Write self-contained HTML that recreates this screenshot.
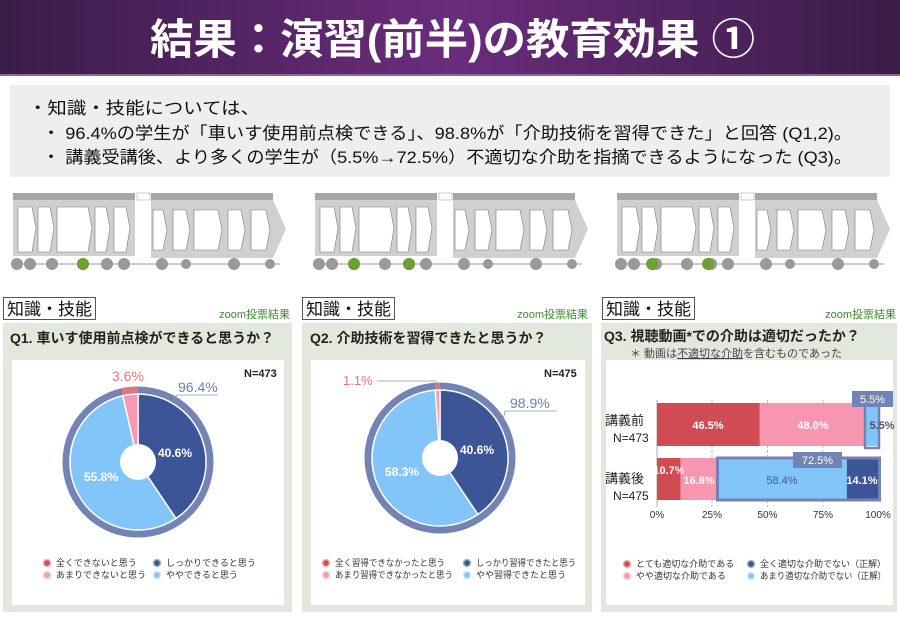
<!DOCTYPE html>
<html><head><meta charset="utf-8"><style>
body{margin:0;width:900px;height:618px;overflow:hidden;background:#fff;font-family:"Liberation Sans","Noto Sans CJK JP",sans-serif}
svg{display:block}
text{font-family:"Liberation Sans","Noto Sans CJK JP",sans-serif}
</style></head><body>
<svg width="900" height="618" viewBox="0 0 900 618" xmlns="http://www.w3.org/2000/svg">
<defs>
<linearGradient id="hg" x1="0" x2="1" y1="0" y2="0">
<stop offset="0" stop-color="#3a1c48"/><stop offset="0.5" stop-color="#6a2c7c"/><stop offset="1" stop-color="#3a1c48"/>
</linearGradient>
<g id="flow">
<rect x="13" y="193" width="122" height="7" fill="#a6a6a6"/>
<rect x="151" y="193" width="122" height="7" fill="#a6a6a6"/>
<rect x="137" y="193" width="13" height="7" fill="#fff" stroke="#999" stroke-width="0.5"/>
<rect x="13" y="200" width="122" height="56" fill="#d0d0d0"/>
<polygon points="151,200 273,200 286,229 273,258 151,258" fill="#d0d0d0"/>
<g fill="#fff" stroke="#777" stroke-width="0.6">
<polygon points="18,207 32,207 36,228 32,252 18,252"/>
<polygon points="38,207 50,207 54,228 50,252 38,252"/>
<polygon points="57,207 88,207 92,228 88,252 57,252"/>
<polygon points="95,207 106,207 110,228 106,252 95,252"/>
<polygon points="114,207 126,207 130,228 126,252 114,252"/>
<polygon points="153,210 163,210 167,230 163,250 153,250"/>
<polygon points="173,210 186,210 190,230 186,250 173,250"/>
<polygon points="194,210 218,210 222,230 218,250 194,250"/>
<polygon points="228,210 241,210 245,230 241,250 228,250"/>
<polygon points="251,210 266,210 270,230 266,250 251,250"/>
</g>
<line x1="13" y1="264" x2="280" y2="264" stroke="#999" stroke-width="1"/>
<g fill="#999">
<circle cx="17" cy="264" r="6"/><circle cx="30" cy="264" r="6"/><circle cx="52" cy="264" r="6"/><circle cx="83" cy="264" r="6"/><circle cx="107" cy="264" r="6"/><circle cx="124" cy="264" r="6"/><circle cx="162" cy="264" r="6"/><circle cx="186" cy="264" r="5"/><circle cx="234" cy="264" r="6"/><circle cx="270" cy="264" r="5"/>
</g>
</g>
</defs>
<rect x="0" y="0" width="900" height="75" fill="url(#hg)"/>
<rect x="0" y="74" width="900" height="2" fill="#8a6a94"/>
<text x="150" y="54" font-size="42" font-weight="bold" fill="#fff" textLength="605" lengthAdjust="spacingAndGlyphs">結果：演習(前半)の教育効果 ①</text>
<rect x="10" y="85" width="880" height="92" fill="#eeeeee"/>
<text x="28" y="114" font-size="17" fill="#111" textLength="232" lengthAdjust="spacingAndGlyphs">・知識・技能については、</text>
<text x="42" y="139" font-size="17" fill="#111" textLength="810" lengthAdjust="spacingAndGlyphs">・ 96.4%の学生が「車いす使用前点検できる」、98.8%が「介助技術を習得できた」と回答 (Q1,2)。</text>
<text x="42" y="163" font-size="17" fill="#111" textLength="810" lengthAdjust="spacingAndGlyphs">・ 講義受講後、より多くの学生が（5.5%→72.5%）不適切な介助を指摘できるようになった (Q3)。</text>

<use href="#flow"/>
<use href="#flow" x="302"/>
<use href="#flow" x="604"/>
<circle cx="83" cy="264" r="6" fill="#6f9e35"/>
<circle cx="354" cy="264" r="6" fill="#6f9e35"/><circle cx="409" cy="264" r="6" fill="#6f9e35"/>
<circle cx="652" cy="264" r="6" fill="#6f9e35"/><circle cx="708" cy="264" r="6" fill="#6f9e35"/>

<g>
<rect x="3" y="323" width="289" height="289" fill="#e3e8dc"/>
<rect x="12" y="360" width="272" height="245" fill="#fff"/>
<rect x="302" y="323" width="290" height="289" fill="#e3e8dc"/>
<rect x="311" y="360" width="274" height="245" fill="#fff"/>
<rect x="601" y="323" width="296" height="289" fill="#e3e8dc"/>
<rect x="606" y="360" width="287" height="245" fill="#fff"/>
</g>
<g font-size="17" fill="#111">
<rect x="3.5" y="297.5" width="92" height="22" fill="#fff" stroke="#555"/>
<text x="7" y="315">知識・技能</text>
<rect x="302.5" y="297.5" width="92" height="22" fill="#fff" stroke="#555"/>
<text x="306" y="315">知識・技能</text>
<rect x="602.5" y="297.5" width="92" height="22" fill="#fff" stroke="#555"/>
<text x="606" y="315">知識・技能</text>
</g>
<g font-size="11" fill="#3e8a2e" text-anchor="end">
<text x="290" y="318">zoom投票結果</text><text x="588" y="318">zoom投票結果</text><text x="896" y="318">zoom投票結果</text>
</g>
<g font-size="14" fill="#222" font-weight="bold">
<text x="10" y="343">Q1. 車いす使用前点検ができると思うか？</text>
<text x="310" y="343">Q2. 介助技術を習得できたと思うか？</text>
<text x="604" y="341">Q3. 視聴動画*での介助は適切だったか？</text>
</g>
<text x="630" y="357" font-size="11" fill="#444">＊ 動画は<tspan text-decoration="underline">不適切な介助</tspan>を含むものであった</text>

<!-- Q1 pie -->
<circle cx="138" cy="462" r="72" fill="none" stroke="#7283b4" stroke-width="7"/>
<path d="M121.85,391.84 A72,72 0 0 1 138,390" fill="none" stroke="#d97880" stroke-width="7"/>
<path d="M138,462 L138,394 A68,68 0 0 1 175.88,518.47 Z" fill="#3c5597" stroke="#fff" stroke-width="1.5"/>
<path d="M138,462 L175.88,518.47 A68,68 0 1 1 122.75,395.73 Z" fill="#82c5f9" stroke="#fff" stroke-width="1.5"/>
<path d="M138,462 L122.75,395.73 A68,68 0 0 1 138,394 Z" fill="#f59ab2" stroke="#fff" stroke-width="1.5"/>
<circle cx="138" cy="462" r="18" fill="#fff"/>
<text x="112" y="381" font-size="14" fill="#e0787e">3.6%</text>
<text x="178" y="392" font-size="14" fill="#6d80b3">96.4%</text>
<polyline points="177,395 218,395" fill="none" stroke="#8894b8" stroke-width="0.8"/>
<line x1="177" y1="395" x2="172" y2="403" stroke="#8894b8" stroke-width="0.8"/>
<text x="244" y="377" font-size="11" font-weight="bold" fill="#222">N=473</text>
<text x="158" y="457" font-size="12" font-weight="bold" fill="#fff">40.6%</text>
<text x="84" y="481" font-size="12" font-weight="bold" fill="#fff">55.8%</text>
<g font-size="9" fill="#333">
<circle cx="47" cy="563" r="3.5" fill="#d44d55" stroke="#f2b0b4" stroke-width="1.5"/><text x="56" y="566">全くできないと思う</text>
<circle cx="47" cy="575" r="3.5" fill="#f59ab2" stroke="#fbd0dc" stroke-width="1.5"/><text x="56" y="578">あまりできないと思う</text>
<circle cx="157" cy="563" r="3.5" fill="#3c5597" stroke="#aab4d2" stroke-width="1.5"/><text x="166" y="566">しっかりできると思う</text>
<circle cx="157" cy="575" r="3.5" fill="#82c5f9" stroke="#cfe8fd" stroke-width="1.5"/><text x="166" y="578">ややできると思う</text>
</g>

<!-- Q2 pie -->
<circle cx="440" cy="458" r="72" fill="none" stroke="#7283b4" stroke-width="7"/>
<path d="M435.03,386.17 A72,72 0 0 1 440,386" fill="none" stroke="#d97880" stroke-width="7"/>
<path d="M440,458 L440,390 A68,68 0 0 1 477.88,514.47 Z" fill="#3c5597" stroke="#fff" stroke-width="1.5"/>
<path d="M440,458 L477.88,514.47 A68,68 0 1 1 435.30,390.16 Z" fill="#82c5f9" stroke="#fff" stroke-width="1.5"/>
<path d="M440,458 L435.30,390.16 A68,68 0 0 1 440,390 Z" fill="#f59ab2" stroke="#fff" stroke-width="1.5"/>
<circle cx="440" cy="458" r="18" fill="#fff"/>
<text x="343" y="385" font-size="13" fill="#e0787e">1.1%</text>
<line x1="377" y1="381" x2="437" y2="381" stroke="#8894b8" stroke-width="0.8"/>
<text x="510" y="408" font-size="14" fill="#6d80b3">98.9%</text>
<line x1="505" y1="411" x2="557" y2="411" stroke="#8894b8" stroke-width="0.8"/>
<line x1="505" y1="411" x2="503" y2="420" stroke="#8894b8" stroke-width="0.8"/>
<text x="544" y="377" font-size="11" font-weight="bold" fill="#222">N=475</text>
<text x="460" y="454" font-size="12" font-weight="bold" fill="#fff">40.6%</text>
<text x="385" y="476" font-size="12" font-weight="bold" fill="#fff">58.3%</text>
<g font-size="9" fill="#333">
<circle cx="326" cy="563" r="3.5" fill="#d44d55" stroke="#f2b0b4" stroke-width="1.5"/><text x="335" y="566" textLength="110" lengthAdjust="spacingAndGlyphs">全く習得できなかったと思う</text>
<circle cx="326" cy="575" r="3.5" fill="#f59ab2" stroke="#fbd0dc" stroke-width="1.5"/><text x="335" y="578" textLength="118" lengthAdjust="spacingAndGlyphs">あまり習得できなかったと思う</text>
<circle cx="467" cy="563" r="3.5" fill="#3c5597" stroke="#aab4d2" stroke-width="1.5"/><text x="476" y="566" textLength="100" lengthAdjust="spacingAndGlyphs">しっかり習得できたと思う</text>
<circle cx="467" cy="575" r="3.5" fill="#82c5f9" stroke="#cfe8fd" stroke-width="1.5"/><text x="476" y="578">やや習得できたと思う</text>
</g>

<!-- Q3 bars -->
<g stroke="#aaa" stroke-width="0.8" stroke-dasharray="3,2">
<line x1="712" y1="400" x2="712" y2="507"/><line x1="767.5" y1="400" x2="767.5" y2="507"/><line x1="823" y1="400" x2="823" y2="507"/>
</g>
<line x1="657" y1="400" x2="657" y2="507" stroke="#999" stroke-width="0.8"/>
<rect x="657" y="403" width="102.8" height="43" fill="#d14b52"/>
<rect x="759.8" y="403" width="106.1" height="43" fill="#f796b0"/>
<rect x="865.9" y="403" width="12.2" height="43" fill="#82c5f9"/>
<rect x="865" y="401" width="14" height="47" fill="none" stroke="#7283b4" stroke-width="2.5"/>
<rect x="657" y="458" width="23.6" height="42" fill="#d14b52"/>
<rect x="680.6" y="458" width="37.2" height="42" fill="#f796b0"/>
<rect x="717.8" y="458" width="129" height="42" fill="#82c5f9"/>
<rect x="846.8" y="458" width="31.2" height="42" fill="#3c5597"/>
<rect x="717.5" y="458" width="162" height="42" fill="none" stroke="#7283b4" stroke-width="3"/>
<rect x="852" y="391" width="41" height="16" fill="#7283b4"/>
<text x="872.5" y="403" font-size="11" fill="#fff" text-anchor="middle">5.5%</text>
<rect x="793" y="452" width="49" height="16" fill="#7283b4"/>
<text x="817.5" y="464" font-size="11" fill="#fff" text-anchor="middle">72.5%</text>
<g font-size="11" font-weight="bold">
<text x="708" y="429" text-anchor="middle" fill="#fff">46.5%</text>
<text x="813" y="429" text-anchor="middle" fill="#fff">48.0%</text>
<text x="882" y="429" text-anchor="middle" fill="#556">5.5%</text>
<text x="669" y="474" text-anchor="middle" fill="#fff">10.7%</text>
<text x="699" y="484" text-anchor="middle" fill="#fff">16.8%</text>
<text x="782" y="484" text-anchor="middle" fill="#4a5a80" font-weight="normal">58.4%</text>
<text x="862" y="484" text-anchor="middle" fill="#fff">14.1%</text>
</g>
<g font-size="13" fill="#222">
<text x="605" y="425">講義前</text><text x="613" y="442" font-size="12">N=473</text>
<text x="605" y="483">講義後</text><text x="613" y="500" font-size="12">N=475</text>
</g>
<g font-size="10" fill="#333" text-anchor="middle">
<text x="657" y="518">0%</text><text x="712" y="518">25%</text><text x="767.5" y="518">50%</text><text x="823" y="518">75%</text><text x="878" y="518">100%</text>
</g>
<g font-size="9" fill="#333">
<circle cx="627" cy="564" r="3.5" fill="#d44d55" stroke="#f2b0b4" stroke-width="1.5"/><text x="636" y="567">とても適切な介助である</text>
<circle cx="627" cy="576" r="3.5" fill="#f59ab2" stroke="#fbd0dc" stroke-width="1.5"/><text x="636" y="579">やや適切な介助である</text>
<circle cx="751" cy="564" r="3.5" fill="#3c5597" stroke="#aab4d2" stroke-width="1.5"/><text x="760" y="567">全く適切な介助でない（正解）</text>
<circle cx="751" cy="576" r="3.5" fill="#82c5f9" stroke="#cfe8fd" stroke-width="1.5"/><text x="760" y="579" textLength="126" lengthAdjust="spacingAndGlyphs">あまり適切な介助でない（正解）</text>
</g>
</svg>
</body></html>
